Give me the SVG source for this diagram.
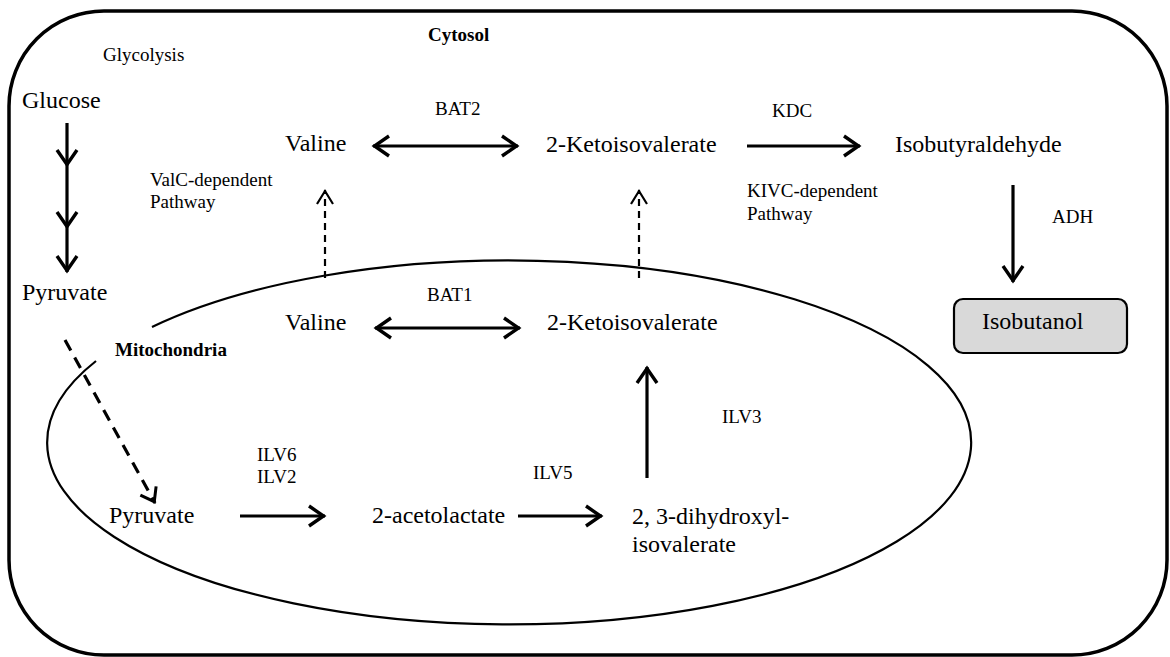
<svg xmlns="http://www.w3.org/2000/svg" width="1170" height="657" viewBox="0 0 1170 657">
<style>
.t{font-family:"Liberation Serif","Times New Roman",serif;font-size:24px;fill:#000}
.s{font-family:"Liberation Serif","Times New Roman",serif;font-size:19px;fill:#000}
.b{font-family:"Liberation Serif","Times New Roman",serif;font-size:19px;font-weight:bold;fill:#000}
.a{stroke:#000;stroke-width:3.2;fill:none}
.d{stroke:#000;stroke-width:2.2;fill:none;stroke-dasharray:7 5}
.dd{stroke:#000;stroke-width:3.2;fill:none;stroke-dasharray:12 8}
</style>
<defs>
<marker id="h" viewBox="-22 -14 26 28" markerWidth="26" markerHeight="28" refX="0" refY="0" orient="auto-start-reverse" markerUnits="userSpaceOnUse">
<path d="M-16,-10 L-1.5,0 L-16,10" fill="none" stroke="#000" stroke-width="3.4" stroke-dasharray="none"/>
</marker>
<marker id="hd" viewBox="-20 -12 24 24" markerWidth="24" markerHeight="24" refX="0" refY="0" orient="auto" markerUnits="userSpaceOnUse">
<path d="M-14,-8 L-1,0 L-14,8" fill="none" stroke="#000" stroke-width="2.2" stroke-dasharray="none"/>
</marker>
<marker id="hp" viewBox="-20 -12 24 24" markerWidth="24" markerHeight="24" refX="0" refY="0" orient="auto" markerUnits="userSpaceOnUse">
<path d="M-14,-9 L-1.5,0 L-14,9" fill="none" stroke="#000" stroke-width="3" stroke-dasharray="none"/>
</marker>
</defs>

<g id="cytosol">
<rect x="9" y="11" width="1158" height="644" rx="95" ry="95" fill="none" stroke="#000" stroke-width="3.5"/>
<text class="b" x="428" y="41">Cytosol</text>
</g>
<g id="mitochondria">
<path d="M152,327 A462,182 0 1 1 96,361" fill="none" stroke="#000" stroke-width="2.2"/>
<text class="b" x="115" y="356">Mitochondria</text>
</g>

<g id="glucose"><text class="t" x="22" y="108">Glucose</text></g>
<g id="glycolysis"><text class="s" x="103" y="61">Glycolysis</text></g>
<g id="pyruvate-cyt"><text class="t" x="22" y="300">Pyruvate</text></g>
<g id="valine-cyt"><text class="t" x="285" y="151">Valine</text></g>
<g id="kiv-cyt"><text class="t" x="546" y="152">2-Ketoisovalerate</text></g>
<g id="isobutyraldehyde"><text class="t" x="895" y="152">Isobutyraldehyde</text></g>
<g id="isobutanol">
<rect x="954" y="299" width="173" height="54" rx="9" ry="9" fill="#d9d9d9" stroke="#000" stroke-width="2.2"/>
<text class="t" x="982" y="329">Isobutanol</text>
</g>
<g id="valine-mit"><text class="t" x="285" y="330">Valine</text></g>
<g id="kiv-mit"><text class="t" x="547" y="330">2-Ketoisovalerate</text></g>
<g id="pyruvate-mit"><text class="t" x="109" y="523">Pyruvate</text></g>
<g id="acetolactate"><text class="t" x="372" y="523">2-acetolactate</text></g>
<g id="dihydroxy"><text class="t" x="632" y="524">2, 3-dihydroxyl-</text><text class="t" x="632" y="552">isovalerate</text></g>

<g id="labels">
<text class="s" x="435" y="115">BAT2</text>
<text class="s" x="772" y="117">KDC</text>
<text class="s" x="150" y="186">ValC-dependent</text>
<text class="s" x="150" y="208">Pathway</text>
<text class="s" x="747" y="197">KIVC-dependent</text>
<text class="s" x="747" y="220">Pathway</text>
<text class="s" x="1052" y="223">ADH</text>
<text class="s" x="427" y="301">BAT1</text>
<text class="s" x="722" y="423">ILV3</text>
<text class="s" x="257" y="461">ILV6</text>
<text class="s" x="257" y="483">ILV2</text>
<text class="s" x="533" y="479">ILV5</text>
</g>

<g id="connectors">
<line class="a" x1="67" y1="123" x2="67" y2="166" marker-end="url(#h)"/>
<line class="a" x1="67" y1="166" x2="67" y2="228" marker-end="url(#h)"/>
<line class="a" x1="67" y1="228" x2="67" y2="272" marker-end="url(#h)"/>
<line class="a" x1="373" y1="146" x2="518" y2="146" marker-start="url(#h)" marker-end="url(#h)"/>
<line class="a" x1="747" y1="146" x2="860" y2="146" marker-end="url(#h)"/>
<line class="a" x1="1013" y1="185" x2="1013" y2="282" marker-end="url(#h)"/>
<line class="a" x1="375" y1="328" x2="520" y2="328" marker-start="url(#h)" marker-end="url(#h)"/>
<line class="a" x1="647" y1="478" x2="647" y2="367" marker-end="url(#h)"/>
<line class="a" x1="240" y1="516" x2="325" y2="516" marker-end="url(#h)"/>
<line class="a" x1="518" y1="516" x2="602" y2="516" marker-end="url(#h)"/>
<line class="d" x1="325" y1="278" x2="325" y2="190" marker-end="url(#hd)"/>
<line class="d" x1="639" y1="278" x2="639" y2="190" marker-end="url(#hd)"/>
<line class="dd" x1="65" y1="340" x2="155" y2="503" marker-end="url(#hp)"/>
</g>
</svg>
